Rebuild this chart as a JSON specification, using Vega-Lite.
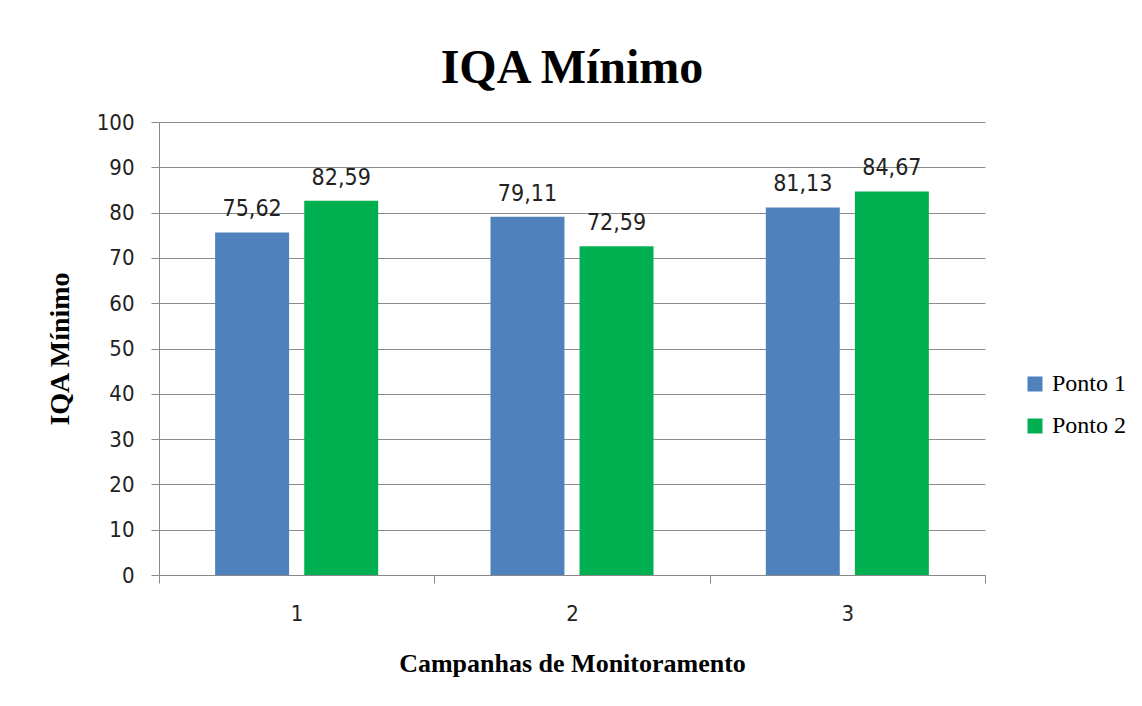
{
  "$schema": "https://vega.github.io/schema/vega-lite/v6.json",
  "autosize": "none",
  "width": 826,
  "height": 453,
  "padding": {"left": 159, "top": 122, "right": 157, "bottom": 131},
  "background": "white",
  "title": {
    "text": "IQA Mínimo",
    "font": "Liberation Serif",
    "fontSize": 48,
    "fontWeight": "bold",
    "color": "#000000",
    "anchor": "middle",
    "baseline": "alphabetic",
    "offset": -20
  },
  "data": {
    "values": [
      {"campanha": "1", "ponto": "Ponto 1", "iqa": 75.62},
      {"campanha": "1", "ponto": "Ponto 2", "iqa": 82.59},
      {"campanha": "2", "ponto": "Ponto 1", "iqa": 79.11},
      {"campanha": "2", "ponto": "Ponto 2", "iqa": 72.59},
      {"campanha": "3", "ponto": "Ponto 1", "iqa": 81.13},
      {"campanha": "3", "ponto": "Ponto 2", "iqa": 84.67}
    ]
  },
  "encoding": {
    "x": {
      "field": "campanha",
      "type": "nominal",
      "scale": {"paddingInner": 0, "paddingOuter": 0},
      "axis": {
        "title": "Campanhas de Monitoramento",
        "titleFont": "Liberation Serif",
        "titleFontSize": 26,
        "titleFontWeight": "bold",
        "titleColor": "#000000",
        "titlePadding": 26,
        "labelAngle": 0,
        "labelFont": "DejaVu Sans Condensed",
        "labelFontSize": 22,
        "labelColor": "#222222",
        "labelPadding": 20,
        "tickBand": "extent",
        "tickSize": 8,
        "tickColor": "#888888",
        "domainColor": "#888888",
        "grid": false
      }
    },
    "xOffset": {
      "field": "ponto",
      "type": "nominal",
      "scale": {"paddingInner": 0.17, "paddingOuter": 0.63}
    },
    "y": {
      "field": "iqa",
      "type": "quantitative",
      "scale": {"domain": [0, 100], "nice": false},
      "axis": {
        "title": "IQA Mínimo",
        "titleFont": "Liberation Serif",
        "titleFontSize": 28,
        "titleFontWeight": "bold",
        "titleColor": "#000000",
        "titlePadding": 22,
        "values": [0, 10, 20, 30, 40, 50, 60, 70, 80, 90, 100],
        "labelFont": "DejaVu Sans Condensed",
        "labelFontSize": 22,
        "labelColor": "#222222",
        "labelPadding": 17,
        "tickSize": 8,
        "tickColor": "#888888",
        "domainColor": "#888888",
        "gridColor": "#8c8c8c",
        "gridWidth": 1
      }
    }
  },
  "layer": [
    {
      "mark": {"type": "bar"},
      "encoding": {
        "color": {
          "field": "ponto",
          "type": "nominal",
          "scale": {"domain": ["Ponto 1", "Ponto 2"], "range": ["#4F81BD", "#00B050"]},
          "legend": {
            "title": null,
            "orient": "none",
            "legendX": 864,
            "legendY": 250,
            "symbolType": "square",
            "symbolSize": 225,
            "symbolStrokeWidth": 0,
            "labelFont": "Liberation Serif",
            "labelFontSize": 24,
            "labelColor": "#000000",
            "labelOffset": 5,
            "rowPadding": 18
          }
        }
      }
    },
    {
      "mark": {
        "type": "text",
        "baseline": "alphabetic",
        "dy": -16,
        "font": "DejaVu Sans Condensed",
        "fontSize": 23,
        "color": "#222222"
      },
      "encoding": {
        "text": {"field": "iqa", "type": "quantitative", "format": ".2f"}
      }
    }
  ],
  "config": {
    "locale": {
      "number": {"decimal": ",", "thousands": ".", "grouping": [3], "currency": ["R$", ""]}
    },
    "view": {"stroke": null}
  }
}
